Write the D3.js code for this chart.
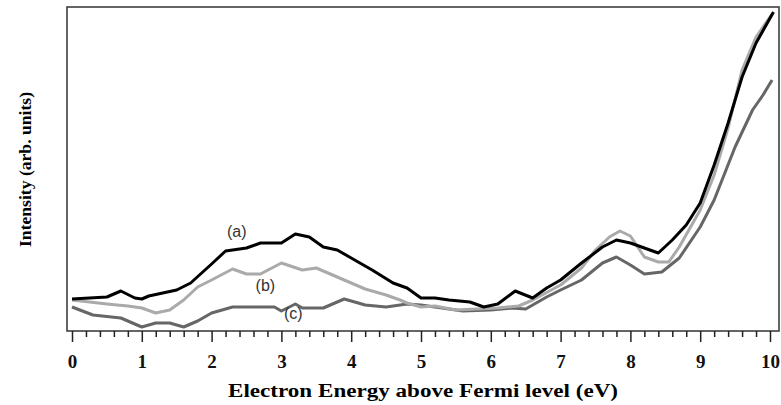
<!DOCTYPE html>
<html>
<head>
<meta charset="utf-8">
<script src="https://cdn.jsdelivr.net/npm/d3@7"></script>
<style>
  body { margin: 0; background: #fff; }
  svg { display: block; }
  .serif { font-family: "Liberation Serif", "DejaVu Serif", serif; font-weight: bold; }
  .sans { font-family: "Liberation Sans", Arial, sans-serif; }
</style>
</head>
<body>
<div id="chart"></div>
<script>
// energies (eV) and intensities (arb. units)
var energyA = [0, 0.5, 0.7, 0.9, 1.0, 1.1, 1.3, 1.5, 1.7, 2.0, 2.2, 2.3, 2.5, 2.7, 3.0, 3.2, 3.4, 3.6, 3.8, 4.0, 4.3, 4.6, 4.8, 5.0, 5.2, 5.4, 5.7, 5.9, 6.1, 6.35, 6.6, 6.8, 7.0, 7.3, 7.6, 7.8, 8.0, 8.2, 8.4, 8.6, 8.8, 9.0, 9.2, 9.4, 9.6, 9.8, 10.05]
var intensA = [32, 34, 40, 33, 32, 35, 38, 41, 48, 67, 80, 81, 83, 88, 88, 97, 94, 84, 81, 73, 61, 48, 43, 33, 33, 31, 29, 24, 27, 40, 33, 43, 51, 68, 84, 91, 88, 83, 78, 91, 106, 128, 166, 208, 254, 288, 319]

var energyB = [0, 0.5, 0.8, 1.0, 1.2, 1.4, 1.6, 1.8, 2.0, 2.3, 2.5, 2.7, 3.0, 3.3, 3.5, 3.8, 4.2, 4.5, 4.7, 4.8, 5.0, 5.2, 5.5, 5.8, 6.1, 6.4, 6.6, 7.0, 7.3, 7.5, 7.7, 7.85, 8.0, 8.2, 8.4, 8.55, 8.7, 9.0, 9.2, 9.4, 9.6, 9.8, 10.03]
var intensB = [31, 27, 25, 23, 18, 21, 31, 44, 51, 62, 57, 57, 68, 61, 63, 54, 42, 36, 31, 28, 24, 25, 21, 22, 23, 25, 31, 46, 63, 81, 94, 100, 95, 74, 69, 69, 84, 121, 156, 203, 261, 294, 317]

var energyC = [0, 0.3, 0.7, 1.0, 1.2, 1.4, 1.6, 1.8, 2.0, 2.3, 2.6, 2.9, 3.0, 3.2, 3.3, 3.6, 3.9, 4.2, 4.5, 4.8, 5.0, 5.3, 5.6, 6.0, 6.3, 6.5, 6.8, 7.0, 7.3, 7.6, 7.8, 8.0, 8.2, 8.45, 8.7, 9.0, 9.2, 9.5, 9.75, 9.9, 10.03]
var intensC = [24, 16, 13, 4, 8, 8, 4, 10, 18, 24, 24, 24, 20, 27, 23, 23, 32, 26, 24, 27, 26, 23, 20, 21, 23, 22, 34, 41, 51, 68, 74, 66, 57, 59, 73, 104, 131, 184, 221, 236, 251]

var majorTicks = [0, 1, 2, 3, 4, 5, 6, 7, 8, 9, 10]
var seriesLabels = ['(a)', '(b)', '(c)']
var labelPos = [[2.36, 98], [2.77, 44], [3.17, 16]]

var width = 781, height = 405
var frame = {left: 67, top: 7, right: 779, bottom: 331}

var svg = d3.select('#chart').append('svg')
    .attr('width', width)
    .attr('height', height)

var x = d3.scaleLinear().domain([0, 10]).range([72, 770])
var y = d3.scaleLinear().domain([0, 324]).range([frame.bottom, frame.top])

// plot frame
svg.append('rect')
    .attr('x', frame.left).attr('y', frame.top)
    .attr('width', frame.right - frame.left)
    .attr('height', frame.bottom - frame.top)
    .attr('fill', 'none')
    .attr('stroke', '#333')
    .attr('stroke-width', 1.5)

// x axis, major + minor ticks
var minor = d3.range(0, 10.01, 0.2).filter(v => Math.abs(v - Math.round(v)) > 0.01)

var axis = svg.append('g').attr('transform', 'translate(0,' + frame.bottom + ')')
axis.call(d3.axisBottom(x).tickValues(minor).tickSize(6).tickFormat(''))
axis.append('g').call(d3.axisBottom(x).tickValues(majorTicks).tickSize(11).tickFormat(d3.format('d')))
axis.selectAll('.domain').remove()
axis.selectAll('line').attr('stroke', '#222').attr('stroke-width', 1.5)
axis.selectAll('text')
    .attr('class', 'serif')
    .attr('font-family', null)
    .attr('font-size', 19)
    .attr('fill', '#111')
    .attr('y', 37)
    .attr('dy', null)

var lines = [
    {e: energyA, v: intensA, color: '#000'},
    {e: energyB, v: intensB, color: '#aaaaaa'},
    {e: energyC, v: intensC, color: '#666'}
]

var line = d3.line().x(d => x(d[0])).y(d => y(d[1]))

lines.slice().reverse().forEach(s => {
    svg.append('path')
        .datum(s.e.map((e, i) => [e, s.v[i]]))
        .attr('fill', 'none')
        .attr('stroke', s.color)
        .attr('stroke-width', 3)
        .attr('stroke-linejoin', 'round')
        .attr('d', line)
})

seriesLabels.forEach((t, i) => {
    svg.append('text')
        .attr('class', 'sans')
        .attr('x', x(labelPos[i][0]))
        .attr('y', y(labelPos[i][1]))
        .attr('text-anchor', 'middle')
        .attr('dominant-baseline', 'middle')
        .attr('font-size', 16)
        .attr('fill', '#333')
        .text(t)
})

svg.append('text')
    .attr('class', 'serif')
    .attr('x', 228).attr('y', 397)
    .attr('font-size', 18)
    .attr('textLength', 390)
    .attr('lengthAdjust', 'spacingAndGlyphs')
    .text('Electron Energy above Fermi level (eV)')

svg.append('text')
    .attr('class', 'serif')
    .attr('transform', 'translate(31,170) rotate(-90)')
    .attr('x', -77)
    .attr('font-size', 16)
    .attr('textLength', 155)
    .attr('lengthAdjust', 'spacingAndGlyphs')
    .text('Intensity (arb. units)')
</script>
</body>
</html>
